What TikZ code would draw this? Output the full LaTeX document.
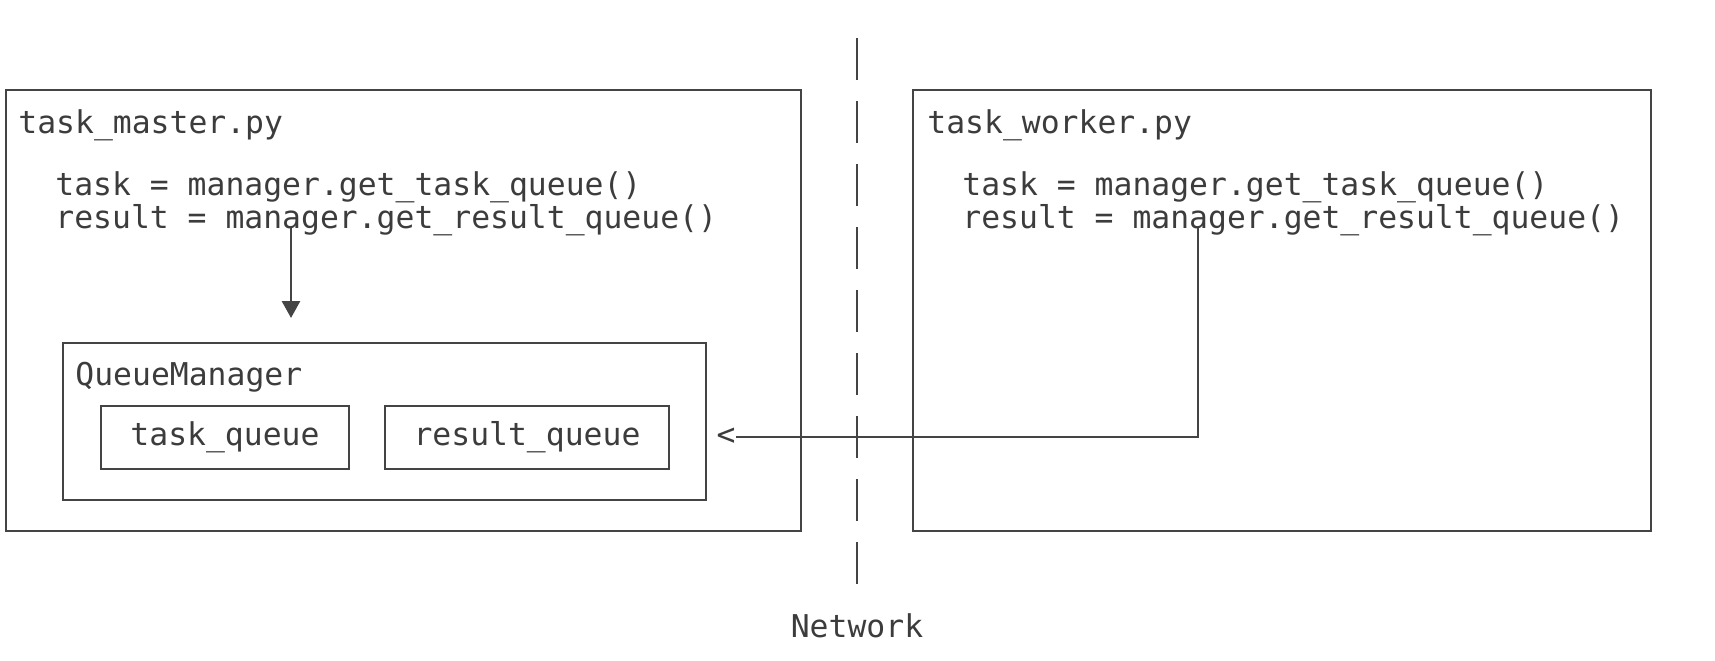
\documentclass[tikz,border=0pt]{standalone}
\usepackage{fontspec}
\setmonofont{DejaVu Sans Mono}
\usetikzlibrary{arrows.meta}
\definecolor{ink}{HTML}{444444}
\definecolor{txt}{HTML}{3C3C3C}
\begin{document}
\begin{tikzpicture}[x=0.5pt,y=-0.5pt,
  font=\ttfamily\fontsize{15.7pt}{19pt}\selectfont,
  box/.style={draw=ink, line width=1.4pt, inner sep=0pt, text=txt},
  lbl/.style={anchor=base west, inner sep=0pt, text=txt},
  conn/.style={draw=ink, line width=1.4pt},
  netline/.style={draw=ink, line width=1.4pt, dash pattern=on 21pt off 10.5pt}]
\useasboundingbox (0,0) rectangle (1715,660);
% outer boxes
\node[box, minimum width=397.5pt, minimum height=220.5pt] (master) at (403.5,310.5) {};
\node[box, minimum width=369pt, minimum height=220.5pt] (worker) at (1282,310.5) {};
% network separator
\coordinate (ntop) at (857,38);
\coordinate (nbot) at (857,584);
\draw[netline] (ntop) -- (nbot);
\node[anchor=base, inner sep=0pt, text=txt] (network) at (857,637) {Network};
% master texts
\node[lbl] (mtitle) at (18,133) {task\_master.py};
\node[lbl] (mline1) at (55,195) {task = manager.get\_task\_queue()};
\node[lbl] (mline2) at (55,228) {result = manager.get\_result\_queue()};
% queue manager
\node[box, minimum width=321.5pt, minimum height=78.5pt] (qm) at (384.5,421.5) {};
\node[lbl] (qmlabel) at (75,385) {QueueManager};
\node[box, minimum width=124pt, minimum height=31.5pt] (tq) at (225,437.5) {task\_queue};
\node[box, minimum width=142pt, minimum height=31.5pt] (rq) at (527,437.5) {result\_queue};
% worker texts
\node[lbl] (wtitle) at (927,133) {task\_worker.py};
\node[lbl] (wline1) at (962,195) {task = manager.get\_task\_queue()};
\node[lbl] (wline2) at (962,228) {result = manager.get\_result\_queue()};
% connectors
\coordinate (mstart) at (291,228);
\coordinate (mend) at (291,318);
\draw[conn, -{Triangle[length=8.5pt,width=9pt]}] (mstart) -- (mend);
\node[anchor=east, inner sep=0pt, text=txt] (lt) at (736,437) {<};
\coordinate (wstart) at (1198,228);
\draw[conn] (wstart) |- (lt.east);
\end{tikzpicture}
\end{document}
